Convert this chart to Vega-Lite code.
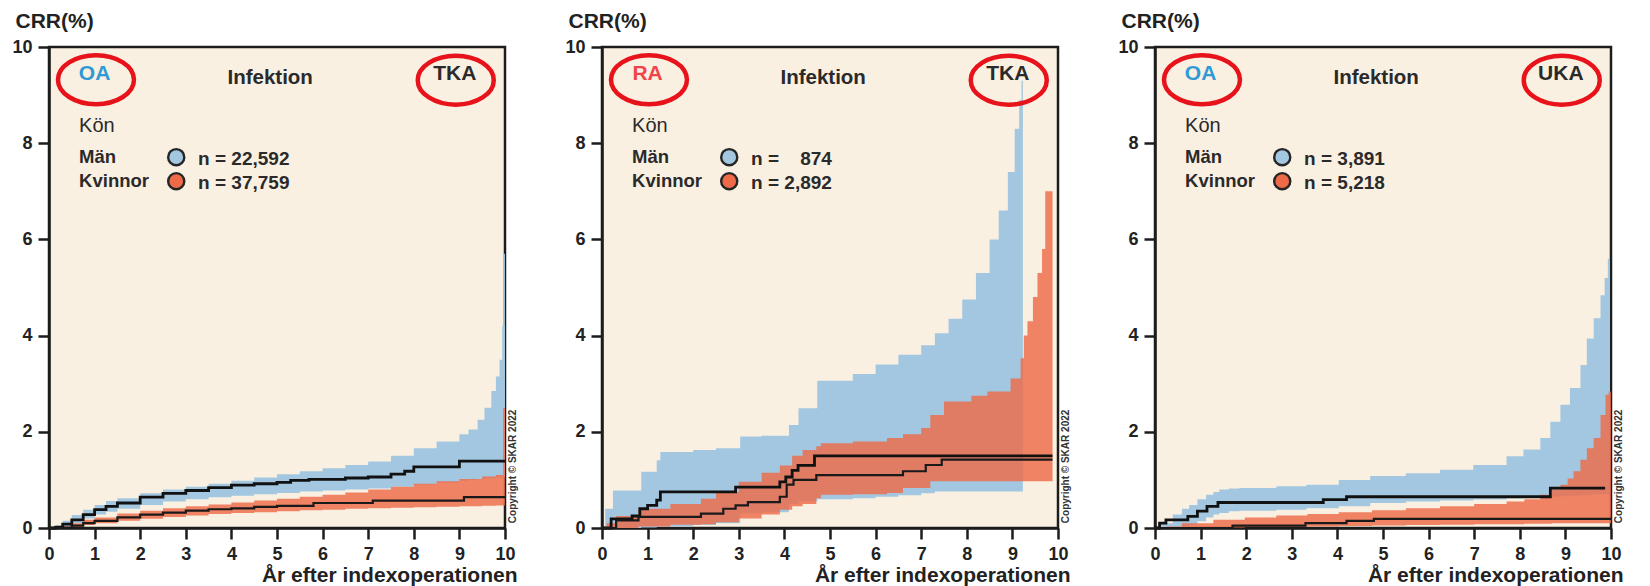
{
  "$schema": "https://vega.github.io/schema/vega-lite/v6.json",
  "background": "white",
  "padding": {"left": 10, "top": 8, "right": 5, "bottom": 0},
  "autosize": {"type": "pad"},
  "config": {
    "font": "Liberation Sans",
    "view": {"fill": "#faf0e2", "stroke": "#1c1c1c", "strokeWidth": 2.5},
    "axis": {"domainColor": "#1c1c1c", "domainWidth": 2.5, "tickColor": "#1c1c1c", "tickWidth": 2.5, "tickSize": 11, "labelFont": "Liberation Sans", "labelFontSize": 18, "labelFontWeight": "bold", "labelColor": "#222222", "labelPadding": 6, "grid": false, "titleFont": "Liberation Sans", "titleFontWeight": "bold", "titleColor": "#222222", "titleFontSize": 21}
  },
  "data": {"values": [
    {"p":1,"t":"lab","diag":"OA","op":"TKA"},
    {"p":2,"t":"lab","diag":"RA","op":"TKA"},
    {"p":3,"t":"lab","diag":"OA","op":"UKA"},
    {"p":1,"t":"leg","sex":"Män","n":"n = 22,592"},
    {"p":1,"t":"leg","sex":"Kvinnor","n":"n = 37,759"},
    {"p":2,"t":"leg","sex":"Män","n":"n =\u00a0\u00a0\u00a0\u00a0874"},
    {"p":2,"t":"leg","sex":"Kvinnor","n":"n = 2,892"},
    {"p":3,"t":"leg","sex":"Män","n":"n = 3,891"},
    {"p":3,"t":"leg","sex":"Kvinnor","n":"n = 5,218"},

    {"p":1,"t":"band","sex":"Män","x":0,"lo":0,"hi":0},
    {"p":1,"t":"band","sex":"Män","x":0.15,"lo":0,"hi":0.05},
    {"p":1,"t":"band","sex":"Män","x":0.3,"lo":0.03,"hi":0.15},
    {"p":1,"t":"band","sex":"Män","x":0.5,"lo":0.1,"hi":0.27},
    {"p":1,"t":"band","sex":"Män","x":0.75,"lo":0.2,"hi":0.38},
    {"p":1,"t":"band","sex":"Män","x":1,"lo":0.28,"hi":0.48},
    {"p":1,"t":"band","sex":"Män","x":1.25,"lo":0.34,"hi":0.56},
    {"p":1,"t":"band","sex":"Män","x":1.5,"lo":0.4,"hi":0.62},
    {"p":1,"t":"band","sex":"Män","x":2,"lo":0.48,"hi":0.72},
    {"p":1,"t":"band","sex":"Män","x":2.5,"lo":0.55,"hi":0.8},
    {"p":1,"t":"band","sex":"Män","x":3,"lo":0.6,"hi":0.86},
    {"p":1,"t":"band","sex":"Män","x":3.5,"lo":0.64,"hi":0.92},
    {"p":1,"t":"band","sex":"Män","x":4,"lo":0.67,"hi":0.98},
    {"p":1,"t":"band","sex":"Män","x":4.5,"lo":0.7,"hi":1.05},
    {"p":1,"t":"band","sex":"Män","x":5,"lo":0.73,"hi":1.12},
    {"p":1,"t":"band","sex":"Män","x":5.5,"lo":0.76,"hi":1.18},
    {"p":1,"t":"band","sex":"Män","x":6,"lo":0.78,"hi":1.24},
    {"p":1,"t":"band","sex":"Män","x":6.5,"lo":0.8,"hi":1.31},
    {"p":1,"t":"band","sex":"Män","x":7,"lo":0.82,"hi":1.38},
    {"p":1,"t":"band","sex":"Män","x":7.5,"lo":0.86,"hi":1.5},
    {"p":1,"t":"band","sex":"Män","x":8,"lo":0.9,"hi":1.66},
    {"p":1,"t":"band","sex":"Män","x":8.5,"lo":0.94,"hi":1.8},
    {"p":1,"t":"band","sex":"Män","x":9,"lo":0.98,"hi":1.95},
    {"p":1,"t":"band","sex":"Män","x":9.2,"lo":1.0,"hi":2.05},
    {"p":1,"t":"band","sex":"Män","x":9.4,"lo":1.02,"hi":2.25},
    {"p":1,"t":"band","sex":"Män","x":9.55,"lo":1.03,"hi":2.5},
    {"p":1,"t":"band","sex":"Män","x":9.7,"lo":1.04,"hi":2.85},
    {"p":1,"t":"band","sex":"Män","x":9.8,"lo":1.05,"hi":3.15},
    {"p":1,"t":"band","sex":"Män","x":9.88,"lo":1.05,"hi":3.5},
    {"p":1,"t":"band","sex":"Män","x":9.94,"lo":1.06,"hi":4.2},
    {"p":1,"t":"band","sex":"Män","x":9.98,"lo":1.06,"hi":5.7},
    {"p":1,"t":"band","sex":"Män","x":10,"lo":1.06,"hi":5.7},

    {"p":1,"t":"band","sex":"Kvinnor","x":0,"lo":0,"hi":0},
    {"p":1,"t":"band","sex":"Kvinnor","x":0.3,"lo":0,"hi":0.03},
    {"p":1,"t":"band","sex":"Kvinnor","x":0.5,"lo":0.02,"hi":0.1},
    {"p":1,"t":"band","sex":"Kvinnor","x":0.75,"lo":0.06,"hi":0.17},
    {"p":1,"t":"band","sex":"Kvinnor","x":1,"lo":0.1,"hi":0.22},
    {"p":1,"t":"band","sex":"Kvinnor","x":1.5,"lo":0.15,"hi":0.3},
    {"p":1,"t":"band","sex":"Kvinnor","x":2,"lo":0.19,"hi":0.36},
    {"p":1,"t":"band","sex":"Kvinnor","x":2.5,"lo":0.23,"hi":0.41},
    {"p":1,"t":"band","sex":"Kvinnor","x":3,"lo":0.26,"hi":0.45},
    {"p":1,"t":"band","sex":"Kvinnor","x":3.5,"lo":0.29,"hi":0.49},
    {"p":1,"t":"band","sex":"Kvinnor","x":4,"lo":0.31,"hi":0.53},
    {"p":1,"t":"band","sex":"Kvinnor","x":4.5,"lo":0.33,"hi":0.57},
    {"p":1,"t":"band","sex":"Kvinnor","x":5,"lo":0.35,"hi":0.61},
    {"p":1,"t":"band","sex":"Kvinnor","x":5.5,"lo":0.37,"hi":0.65},
    {"p":1,"t":"band","sex":"Kvinnor","x":6,"lo":0.38,"hi":0.69},
    {"p":1,"t":"band","sex":"Kvinnor","x":6.5,"lo":0.4,"hi":0.74},
    {"p":1,"t":"band","sex":"Kvinnor","x":7,"lo":0.41,"hi":0.8},
    {"p":1,"t":"band","sex":"Kvinnor","x":7.5,"lo":0.42,"hi":0.86},
    {"p":1,"t":"band","sex":"Kvinnor","x":8,"lo":0.43,"hi":0.92},
    {"p":1,"t":"band","sex":"Kvinnor","x":8.5,"lo":0.44,"hi":0.97},
    {"p":1,"t":"band","sex":"Kvinnor","x":9,"lo":0.45,"hi":1.02},
    {"p":1,"t":"band","sex":"Kvinnor","x":9.5,"lo":0.46,"hi":1.07},
    {"p":1,"t":"band","sex":"Kvinnor","x":9.8,"lo":0.47,"hi":1.1},
    {"p":1,"t":"band","sex":"Kvinnor","x":9.96,"lo":0.47,"hi":2.5},
    {"p":1,"t":"band","sex":"Kvinnor","x":10,"lo":0.47,"hi":2.5},

    {"p":1,"t":"est","sex":"Män","x":0,"est":0},
    {"p":1,"t":"est","sex":"Män","x":0.15,"est":0.02},
    {"p":1,"t":"est","sex":"Män","x":0.3,"est":0.08},
    {"p":1,"t":"est","sex":"Män","x":0.5,"est":0.17},
    {"p":1,"t":"est","sex":"Män","x":0.75,"est":0.28},
    {"p":1,"t":"est","sex":"Män","x":1,"est":0.38},
    {"p":1,"t":"est","sex":"Män","x":1.25,"est":0.45},
    {"p":1,"t":"est","sex":"Män","x":1.5,"est":0.52},
    {"p":1,"t":"est","sex":"Män","x":2,"est":0.64},
    {"p":1,"t":"est","sex":"Män","x":2.5,"est":0.72},
    {"p":1,"t":"est","sex":"Män","x":3,"est":0.78},
    {"p":1,"t":"est","sex":"Män","x":3.5,"est":0.84},
    {"p":1,"t":"est","sex":"Män","x":4,"est":0.89},
    {"p":1,"t":"est","sex":"Män","x":4.5,"est":0.92},
    {"p":1,"t":"est","sex":"Män","x":5,"est":0.95},
    {"p":1,"t":"est","sex":"Män","x":5.3,"est":0.99},
    {"p":1,"t":"est","sex":"Män","x":5.7,"est":1.01},
    {"p":1,"t":"est","sex":"Män","x":6.5,"est":1.04},
    {"p":1,"t":"est","sex":"Män","x":7,"est":1.06},
    {"p":1,"t":"est","sex":"Män","x":7.5,"est":1.12},
    {"p":1,"t":"est","sex":"Män","x":7.8,"est":1.18},
    {"p":1,"t":"est","sex":"Män","x":8,"est":1.27},
    {"p":1,"t":"est","sex":"Män","x":9,"est":1.39},
    {"p":1,"t":"est","sex":"Män","x":10,"est":1.39},

    {"p":1,"t":"est","sex":"Kvinnor","x":0,"est":0},
    {"p":1,"t":"est","sex":"Kvinnor","x":0.3,"est":0.01},
    {"p":1,"t":"est","sex":"Kvinnor","x":0.5,"est":0.05},
    {"p":1,"t":"est","sex":"Kvinnor","x":0.75,"est":0.1},
    {"p":1,"t":"est","sex":"Kvinnor","x":1,"est":0.15},
    {"p":1,"t":"est","sex":"Kvinnor","x":1.5,"est":0.22},
    {"p":1,"t":"est","sex":"Kvinnor","x":2,"est":0.28},
    {"p":1,"t":"est","sex":"Kvinnor","x":2.5,"est":0.32},
    {"p":1,"t":"est","sex":"Kvinnor","x":3,"est":0.36},
    {"p":1,"t":"est","sex":"Kvinnor","x":3.5,"est":0.39},
    {"p":1,"t":"est","sex":"Kvinnor","x":4,"est":0.41},
    {"p":1,"t":"est","sex":"Kvinnor","x":4.5,"est":0.44},
    {"p":1,"t":"est","sex":"Kvinnor","x":5,"est":0.46},
    {"p":1,"t":"est","sex":"Kvinnor","x":5.8,"est":0.52},
    {"p":1,"t":"est","sex":"Kvinnor","x":7.1,"est":0.57},
    {"p":1,"t":"est","sex":"Kvinnor","x":9.1,"est":0.64},
    {"p":1,"t":"est","sex":"Kvinnor","x":10,"est":0.64},

    {"p":2,"t":"band","sex":"Män","x":0,"lo":0,"hi":0},
    {"p":2,"t":"band","sex":"Män","x":0.07,"lo":0,"hi":0.4},
    {"p":2,"t":"band","sex":"Män","x":0.24,"lo":0,"hi":0.78},
    {"p":2,"t":"band","sex":"Män","x":0.86,"lo":0.01,"hi":1.17},
    {"p":2,"t":"band","sex":"Män","x":1.2,"lo":0.02,"hi":1.41},
    {"p":2,"t":"band","sex":"Män","x":1.28,"lo":0.03,"hi":1.58},
    {"p":2,"t":"band","sex":"Män","x":2,"lo":0.06,"hi":1.62},
    {"p":2,"t":"band","sex":"Män","x":2.5,"lo":0.1,"hi":1.66},
    {"p":2,"t":"band","sex":"Män","x":3.03,"lo":0.3,"hi":1.9},
    {"p":2,"t":"band","sex":"Män","x":3.5,"lo":0.33,"hi":1.92},
    {"p":2,"t":"band","sex":"Män","x":4.1,"lo":0.5,"hi":2.14},
    {"p":2,"t":"band","sex":"Män","x":4.31,"lo":0.55,"hi":2.49},
    {"p":2,"t":"band","sex":"Män","x":4.72,"lo":0.6,"hi":3.06},
    {"p":2,"t":"band","sex":"Män","x":5.5,"lo":0.62,"hi":3.2},
    {"p":2,"t":"band","sex":"Män","x":6,"lo":0.65,"hi":3.4},
    {"p":2,"t":"band","sex":"Män","x":6.5,"lo":0.68,"hi":3.6},
    {"p":2,"t":"band","sex":"Män","x":7,"lo":0.72,"hi":3.8},
    {"p":2,"t":"band","sex":"Män","x":7.3,"lo":0.76,"hi":4.05},
    {"p":2,"t":"band","sex":"Män","x":7.6,"lo":0.76,"hi":4.35},
    {"p":2,"t":"band","sex":"Män","x":7.9,"lo":0.76,"hi":4.75},
    {"p":2,"t":"band","sex":"Män","x":8.2,"lo":0.76,"hi":5.3},
    {"p":2,"t":"band","sex":"Män","x":8.5,"lo":0.76,"hi":6.0},
    {"p":2,"t":"band","sex":"Män","x":8.7,"lo":0.76,"hi":6.6},
    {"p":2,"t":"band","sex":"Män","x":8.9,"lo":0.76,"hi":7.4},
    {"p":2,"t":"band","sex":"Män","x":9.05,"lo":0.76,"hi":8.3},
    {"p":2,"t":"band","sex":"Män","x":9.15,"lo":0.76,"hi":8.9},
    {"p":2,"t":"band","sex":"Män","x":9.2,"lo":0.76,"hi":9.3},
    {"p":2,"t":"band","sex":"Män","x":9.23,"lo":0.76,"hi":9.3},

    {"p":2,"t":"band","sex":"Kvinnor","x":0,"lo":0,"hi":0},
    {"p":2,"t":"band","sex":"Kvinnor","x":0.1,"lo":0,"hi":0.1},
    {"p":2,"t":"band","sex":"Kvinnor","x":0.31,"lo":0,"hi":0.25},
    {"p":2,"t":"band","sex":"Kvinnor","x":0.8,"lo":0.03,"hi":0.4},
    {"p":2,"t":"band","sex":"Kvinnor","x":1.5,"lo":0.07,"hi":0.5},
    {"p":2,"t":"band","sex":"Kvinnor","x":2.17,"lo":0.08,"hi":0.61},
    {"p":2,"t":"band","sex":"Kvinnor","x":2.5,"lo":0.12,"hi":0.75},
    {"p":2,"t":"band","sex":"Kvinnor","x":3,"lo":0.2,"hi":0.96},
    {"p":2,"t":"band","sex":"Kvinnor","x":3.5,"lo":0.28,"hi":1.15},
    {"p":2,"t":"band","sex":"Kvinnor","x":3.9,"lo":0.38,"hi":1.3},
    {"p":2,"t":"band","sex":"Kvinnor","x":4.17,"lo":0.45,"hi":1.5},
    {"p":2,"t":"band","sex":"Kvinnor","x":4.4,"lo":0.5,"hi":1.62},
    {"p":2,"t":"band","sex":"Kvinnor","x":4.7,"lo":0.62,"hi":1.7},
    {"p":2,"t":"band","sex":"Kvinnor","x":4.8,"lo":0.69,"hi":1.76},
    {"p":2,"t":"band","sex":"Kvinnor","x":5.5,"lo":0.7,"hi":1.8},
    {"p":2,"t":"band","sex":"Kvinnor","x":6.25,"lo":0.73,"hi":1.87},
    {"p":2,"t":"band","sex":"Kvinnor","x":6.6,"lo":0.83,"hi":1.95},
    {"p":2,"t":"band","sex":"Kvinnor","x":7,"lo":0.83,"hi":2.08},
    {"p":2,"t":"band","sex":"Kvinnor","x":7.2,"lo":0.97,"hi":2.35},
    {"p":2,"t":"band","sex":"Kvinnor","x":7.5,"lo":0.97,"hi":2.63},
    {"p":2,"t":"band","sex":"Kvinnor","x":8.1,"lo":0.97,"hi":2.75},
    {"p":2,"t":"band","sex":"Kvinnor","x":8.45,"lo":0.97,"hi":2.84},
    {"p":2,"t":"band","sex":"Kvinnor","x":8.96,"lo":0.97,"hi":3.11},
    {"p":2,"t":"band","sex":"Kvinnor","x":9.18,"lo":0.97,"hi":3.53},
    {"p":2,"t":"band","sex":"Kvinnor","x":9.25,"lo":0.97,"hi":4.0},
    {"p":2,"t":"band","sex":"Kvinnor","x":9.33,"lo":0.97,"hi":4.3},
    {"p":2,"t":"band","sex":"Kvinnor","x":9.45,"lo":0.97,"hi":4.8},
    {"p":2,"t":"band","sex":"Kvinnor","x":9.55,"lo":0.97,"hi":5.3},
    {"p":2,"t":"band","sex":"Kvinnor","x":9.65,"lo":0.97,"hi":5.8},
    {"p":2,"t":"band","sex":"Kvinnor","x":9.72,"lo":0.97,"hi":7.0},
    {"p":2,"t":"band","sex":"Kvinnor","x":9.88,"lo":0.97,"hi":7.0},

    {"p":2,"t":"est","sex":"Män","x":0,"est":0},
    {"p":2,"t":"est","sex":"Män","x":0.2,"est":0.19},
    {"p":2,"t":"est","sex":"Män","x":0.66,"est":0.25},
    {"p":2,"t":"est","sex":"Män","x":0.83,"est":0.4},
    {"p":2,"t":"est","sex":"Män","x":1.0,"est":0.47},
    {"p":2,"t":"est","sex":"Män","x":1.2,"est":0.58},
    {"p":2,"t":"est","sex":"Män","x":1.28,"est":0.75},
    {"p":2,"t":"est","sex":"Män","x":2.93,"est":0.85},
    {"p":2,"t":"est","sex":"Män","x":3.9,"est":0.96},
    {"p":2,"t":"est","sex":"Män","x":4.03,"est":1.06},
    {"p":2,"t":"est","sex":"Män","x":4.17,"est":1.2},
    {"p":2,"t":"est","sex":"Män","x":4.3,"est":1.3},
    {"p":2,"t":"est","sex":"Män","x":4.66,"est":1.5},
    {"p":2,"t":"est","sex":"Män","x":9.88,"est":1.5},

    {"p":2,"t":"est","sex":"Kvinnor","x":0,"est":0},
    {"p":2,"t":"est","sex":"Kvinnor","x":0.31,"est":0.16},
    {"p":2,"t":"est","sex":"Kvinnor","x":0.8,"est":0.23},
    {"p":2,"t":"est","sex":"Kvinnor","x":2.17,"est":0.3},
    {"p":2,"t":"est","sex":"Kvinnor","x":2.66,"est":0.4},
    {"p":2,"t":"est","sex":"Kvinnor","x":2.93,"est":0.47},
    {"p":2,"t":"est","sex":"Kvinnor","x":3.2,"est":0.54},
    {"p":2,"t":"est","sex":"Kvinnor","x":3.9,"est":0.65},
    {"p":2,"t":"est","sex":"Kvinnor","x":4.05,"est":0.9},
    {"p":2,"t":"est","sex":"Kvinnor","x":4.2,"est":1.0},
    {"p":2,"t":"est","sex":"Kvinnor","x":4.7,"est":1.1},
    {"p":2,"t":"est","sex":"Kvinnor","x":6.6,"est":1.18},
    {"p":2,"t":"est","sex":"Kvinnor","x":7.1,"est":1.31},
    {"p":2,"t":"est","sex":"Kvinnor","x":7.45,"est":1.42},
    {"p":2,"t":"est","sex":"Kvinnor","x":9.88,"est":1.42},

    {"p":3,"t":"band","sex":"Män","x":0,"lo":0,"hi":0},
    {"p":3,"t":"band","sex":"Män","x":0.1,"lo":0,"hi":0.1},
    {"p":3,"t":"band","sex":"Män","x":0.39,"lo":0.01,"hi":0.28},
    {"p":3,"t":"band","sex":"Män","x":0.59,"lo":0.03,"hi":0.4},
    {"p":3,"t":"band","sex":"Män","x":0.75,"lo":0.06,"hi":0.48},
    {"p":3,"t":"band","sex":"Män","x":0.93,"lo":0.14,"hi":0.6},
    {"p":3,"t":"band","sex":"Män","x":1.12,"lo":0.22,"hi":0.69},
    {"p":3,"t":"band","sex":"Män","x":1.28,"lo":0.28,"hi":0.75},
    {"p":3,"t":"band","sex":"Män","x":1.41,"lo":0.31,"hi":0.8},
    {"p":3,"t":"band","sex":"Män","x":1.62,"lo":0.35,"hi":0.82},
    {"p":3,"t":"band","sex":"Män","x":1.85,"lo":0.36,"hi":0.83},
    {"p":3,"t":"band","sex":"Män","x":2.66,"lo":0.38,"hi":0.87},
    {"p":3,"t":"band","sex":"Män","x":3.32,"lo":0.41,"hi":0.9},
    {"p":3,"t":"band","sex":"Män","x":4.03,"lo":0.45,"hi":1.0},
    {"p":3,"t":"band","sex":"Män","x":4.72,"lo":0.52,"hi":1.08},
    {"p":3,"t":"band","sex":"Män","x":5.5,"lo":0.55,"hi":1.14},
    {"p":3,"t":"band","sex":"Män","x":6.25,"lo":0.57,"hi":1.21},
    {"p":3,"t":"band","sex":"Män","x":6.98,"lo":0.59,"hi":1.31},
    {"p":3,"t":"band","sex":"Män","x":7.71,"lo":0.62,"hi":1.49},
    {"p":3,"t":"band","sex":"Män","x":8.08,"lo":0.63,"hi":1.63},
    {"p":3,"t":"band","sex":"Män","x":8.45,"lo":0.64,"hi":1.87},
    {"p":3,"t":"band","sex":"Män","x":8.67,"lo":0.65,"hi":2.21},
    {"p":3,"t":"band","sex":"Män","x":8.89,"lo":0.66,"hi":2.56},
    {"p":3,"t":"band","sex":"Män","x":9.1,"lo":0.67,"hi":2.91},
    {"p":3,"t":"band","sex":"Män","x":9.33,"lo":0.68,"hi":3.39},
    {"p":3,"t":"band","sex":"Män","x":9.47,"lo":0.69,"hi":3.94},
    {"p":3,"t":"band","sex":"Män","x":9.62,"lo":0.7,"hi":4.36},
    {"p":3,"t":"band","sex":"Män","x":9.77,"lo":0.7,"hi":4.84},
    {"p":3,"t":"band","sex":"Män","x":9.86,"lo":0.7,"hi":5.2},
    {"p":3,"t":"band","sex":"Män","x":9.93,"lo":0.7,"hi":5.6},
    {"p":3,"t":"band","sex":"Män","x":9.96,"lo":0.7,"hi":5.6},

    {"p":3,"t":"band","sex":"Kvinnor","x":0,"lo":0,"hi":0},
    {"p":3,"t":"band","sex":"Kvinnor","x":0.24,"lo":0,"hi":0.03},
    {"p":3,"t":"band","sex":"Kvinnor","x":0.59,"lo":0,"hi":0.1},
    {"p":3,"t":"band","sex":"Kvinnor","x":1.28,"lo":0.01,"hi":0.17},
    {"p":3,"t":"band","sex":"Kvinnor","x":1.97,"lo":0.02,"hi":0.22},
    {"p":3,"t":"band","sex":"Kvinnor","x":2.66,"lo":0.02,"hi":0.26},
    {"p":3,"t":"band","sex":"Kvinnor","x":3.34,"lo":0.03,"hi":0.29},
    {"p":3,"t":"band","sex":"Kvinnor","x":4.03,"lo":0.04,"hi":0.33},
    {"p":3,"t":"band","sex":"Kvinnor","x":4.76,"lo":0.05,"hi":0.37},
    {"p":3,"t":"band","sex":"Kvinnor","x":5.5,"lo":0.06,"hi":0.41},
    {"p":3,"t":"band","sex":"Kvinnor","x":6.25,"lo":0.07,"hi":0.45},
    {"p":3,"t":"band","sex":"Kvinnor","x":7,"lo":0.08,"hi":0.5},
    {"p":3,"t":"band","sex":"Kvinnor","x":7.71,"lo":0.08,"hi":0.55},
    {"p":3,"t":"band","sex":"Kvinnor","x":8.1,"lo":0.09,"hi":0.6},
    {"p":3,"t":"band","sex":"Kvinnor","x":8.45,"lo":0.09,"hi":0.69},
    {"p":3,"t":"band","sex":"Kvinnor","x":8.7,"lo":0.1,"hi":0.8},
    {"p":3,"t":"band","sex":"Kvinnor","x":8.89,"lo":0.1,"hi":0.9},
    {"p":3,"t":"band","sex":"Kvinnor","x":9.05,"lo":0.1,"hi":1.03},
    {"p":3,"t":"band","sex":"Kvinnor","x":9.18,"lo":0.1,"hi":1.18},
    {"p":3,"t":"band","sex":"Kvinnor","x":9.33,"lo":0.1,"hi":1.42},
    {"p":3,"t":"band","sex":"Kvinnor","x":9.47,"lo":0.1,"hi":1.66},
    {"p":3,"t":"band","sex":"Kvinnor","x":9.62,"lo":0.1,"hi":1.87},
    {"p":3,"t":"band","sex":"Kvinnor","x":9.77,"lo":0.1,"hi":2.35},
    {"p":3,"t":"band","sex":"Kvinnor","x":9.88,"lo":0.1,"hi":2.77},
    {"p":3,"t":"band","sex":"Kvinnor","x":9.95,"lo":0.1,"hi":2.84},
    {"p":3,"t":"band","sex":"Kvinnor","x":10,"lo":0.1,"hi":2.84},

    {"p":3,"t":"est","sex":"Män","x":0,"est":0},
    {"p":3,"t":"est","sex":"Män","x":0.1,"est":0.1},
    {"p":3,"t":"est","sex":"Män","x":0.24,"est":0.17},
    {"p":3,"t":"est","sex":"Män","x":0.72,"est":0.24},
    {"p":3,"t":"est","sex":"Män","x":0.93,"est":0.35},
    {"p":3,"t":"est","sex":"Män","x":1.14,"est":0.45},
    {"p":3,"t":"est","sex":"Män","x":1.38,"est":0.53},
    {"p":3,"t":"est","sex":"Män","x":3.69,"est":0.59},
    {"p":3,"t":"est","sex":"Män","x":4.2,"est":0.65},
    {"p":3,"t":"est","sex":"Män","x":8.67,"est":0.83},
    {"p":3,"t":"est","sex":"Män","x":9.87,"est":0.83},

    {"p":3,"t":"est","sex":"Kvinnor","x":0,"est":0},
    {"p":3,"t":"est","sex":"Kvinnor","x":1.7,"est":0.05},
    {"p":3,"t":"est","sex":"Kvinnor","x":3.3,"est":0.1},
    {"p":3,"t":"est","sex":"Kvinnor","x":4.2,"est":0.15},
    {"p":3,"t":"est","sex":"Kvinnor","x":4.8,"est":0.19},
    {"p":3,"t":"est","sex":"Kvinnor","x":10,"est":0.19}
  ]},
  "facet": {"column": {"field": "p", "type": "ordinal", "header": {"title": null, "labels": false}}},
  "spacing": 97,
  "bounds": "flush",
  "resolve": {"axis": {"x": "independent", "y": "independent"}},
  "spec": {
    "width": 456,
    "height": 481,
    "layer": [
      {
        "transform": [{"filter": "datum.t == 'band' && datum.sex == 'Män'"}],
        "mark": {"type": "area", "interpolate": "step-after"},
        "encoding": {
          "x": {"field": "x", "type": "quantitative", "scale": {"domain": [0, 10], "nice": false}, "axis": {"values": [0,1,2,3,4,5,6,7,8,9,10], "labelFlush": false, "title": "År efter indexoperationen", "titleAnchor": "end", "titleAlign": "right", "titleX": 468, "titleY": 47, "titleBaseline": "middle"}},
          "y": {"field": "lo", "type": "quantitative", "scale": {"domain": [0, 10], "nice": false}, "axis": {"values": [0,2,4,6,8,10], "title": "CRR(%)", "titleAngle": 0, "titleAlign": "left", "titleX": -34, "titleY": -26, "titleBaseline": "middle"}},
          "y2": {"field": "hi"},
          "fill": {"field": "sex", "type": "nominal", "scale": {"domain": ["Män", "Kvinnor"], "range": ["#a3c7e0", "#ee6a48"]}, "legend": null}
        }
      },
      {
        "transform": [{"filter": "datum.t == 'band' && datum.sex == 'Kvinnor'"}],
        "mark": {"type": "area", "interpolate": "step-after", "fillOpacity": 0.82},
        "encoding": {
          "x": {"field": "x", "type": "quantitative"},
          "y": {"field": "lo", "type": "quantitative"},
          "y2": {"field": "hi"},
          "fill": {"field": "sex", "type": "nominal"}
        }
      },
      {
        "transform": [{"filter": "datum.t == 'est' && datum.sex == 'Män'"}],
        "mark": {"type": "line", "interpolate": "step-after", "color": "#111111", "strokeWidth": 2.8},
        "encoding": {
          "x": {"field": "x", "type": "quantitative"},
          "y": {"field": "est", "type": "quantitative"}
        }
      },
      {
        "transform": [{"filter": "datum.t == 'est' && datum.sex == 'Kvinnor'"}],
        "mark": {"type": "line", "interpolate": "step-after", "color": "#1a1a1a", "strokeWidth": 2.2},
        "encoding": {
          "x": {"field": "x", "type": "quantitative"},
          "y": {"field": "est", "type": "quantitative"}
        }
      },
      {
        "transform": [{"filter": "datum.t == 'lab'"}],
        "mark": {"type": "text", "fontSize": 21, "fontWeight": "bold", "align": "center", "baseline": "middle"},
        "encoding": {
          "x": {"datum": 1.0},
          "y": {"datum": 9.44},
          "text": {"field": "diag"},
          "color": {"field": "diag", "type": "nominal", "scale": {"domain": ["OA", "RA"], "range": ["#2f9ad6", "#f0444b"]}, "legend": null}
        }
      },
      {
        "transform": [{"filter": "datum.t == 'lab'"}],
        "mark": {"type": "text", "fontSize": 20.5, "fontWeight": "bold", "align": "center", "baseline": "middle", "color": "#2a2a2a"},
        "encoding": {
          "x": {"datum": 4.85},
          "y": {"datum": 9.36},
          "text": {"value": "Infektion"}
        }
      },
      {
        "transform": [{"filter": "datum.t == 'lab'"}],
        "mark": {"type": "text", "fontSize": 21, "fontWeight": "bold", "align": "center", "baseline": "middle", "color": "#2a2a2a"},
        "encoding": {
          "x": {"datum": 8.9},
          "y": {"datum": 9.44},
          "text": {"field": "op"}
        }
      },
      {
        "transform": [{"filter": "datum.t == 'lab'"}],
        "mark": {"type": "point", "shape": "M -1 0 C -1 -0.3553 -0.5523 -0.6434 0 -0.6434 C 0.5523 -0.6434 1 -0.3553 1 0 C 1 0.3553 0.5523 0.6434 0 0.6434 C -0.5523 0.6434 -1 0.3553 -1 0 Z", "size": 5776, "filled": false, "stroke": "#e8121b", "strokeWidth": 4.5, "opacity": 1},
        "encoding": {
          "x": {"datum": 1.03},
          "y": {"datum": 9.32}
        }
      },
      {
        "transform": [{"filter": "datum.t == 'lab'"}],
        "mark": {"type": "point", "shape": "M -1 0 C -1 -0.3553 -0.5523 -0.6434 0 -0.6434 C 0.5523 -0.6434 1 -0.3553 1 0 C 1 0.3553 0.5523 0.6434 0 0.6434 C -0.5523 0.6434 -1 0.3553 -1 0 Z", "size": 5776, "filled": false, "stroke": "#e8121b", "strokeWidth": 4.5, "opacity": 1},
        "encoding": {
          "x": {"datum": 8.92},
          "y": {"datum": 9.31}
        }
      },
      {
        "transform": [{"filter": "datum.t == 'lab'"}],
        "mark": {"type": "text", "fontSize": 20, "align": "left", "baseline": "middle", "color": "#2a2a2a"},
        "encoding": {
          "x": {"datum": 0.66},
          "y": {"datum": 8.36},
          "text": {"value": "Kön"}
        }
      },
      {
        "transform": [{"filter": "datum.t == 'leg' && datum.sex == 'Män'"}],
        "mark": {"type": "text", "fontSize": 18.5, "fontWeight": "bold", "align": "left", "baseline": "middle", "color": "#2a2a2a"},
        "encoding": {
          "x": {"datum": 0.66},
          "y": {"datum": 7.71},
          "text": {"field": "sex"}
        }
      },
      {
        "transform": [{"filter": "datum.t == 'leg' && datum.sex == 'Kvinnor'"}],
        "mark": {"type": "text", "fontSize": 18.5, "fontWeight": "bold", "align": "left", "baseline": "middle", "color": "#2a2a2a"},
        "encoding": {
          "x": {"datum": 0.66},
          "y": {"datum": 7.21},
          "text": {"field": "sex"}
        }
      },
      {
        "transform": [{"filter": "datum.t == 'leg' && datum.sex == 'Män'"}],
        "mark": {"type": "point", "shape": "circle", "size": 260, "filled": true, "stroke": "#252525", "strokeWidth": 2.4, "opacity": 1},
        "encoding": {
          "x": {"datum": 2.79},
          "y": {"datum": 7.71},
          "fill": {"field": "sex", "type": "nominal"}
        }
      },
      {
        "transform": [{"filter": "datum.t == 'leg' && datum.sex == 'Kvinnor'"}],
        "mark": {"type": "point", "shape": "circle", "size": 260, "filled": true, "stroke": "#252525", "strokeWidth": 2.4, "opacity": 1},
        "encoding": {
          "x": {"datum": 2.79},
          "y": {"datum": 7.21},
          "fill": {"field": "sex", "type": "nominal"}
        }
      },
      {
        "transform": [{"filter": "datum.t == 'leg' && datum.sex == 'Män'"}],
        "mark": {"type": "text", "fontSize": 19, "fontWeight": "bold", "align": "left", "baseline": "middle", "color": "#2a2a2a"},
        "encoding": {
          "x": {"datum": 3.27},
          "y": {"datum": 7.67},
          "text": {"field": "n"}
        }
      },
      {
        "transform": [{"filter": "datum.t == 'leg' && datum.sex == 'Kvinnor'"}],
        "mark": {"type": "text", "fontSize": 19, "fontWeight": "bold", "align": "left", "baseline": "middle", "color": "#2a2a2a"},
        "encoding": {
          "x": {"datum": 3.27},
          "y": {"datum": 7.17},
          "text": {"field": "n"}
        }
      },
      {
        "transform": [{"filter": "datum.t == 'lab'"}],
        "mark": {"type": "text", "fontSize": 10, "fontWeight": "bold", "angle": 270, "align": "left", "baseline": "top", "dy": 3, "color": "#333333"},
        "encoding": {
          "x": {"datum": 10},
          "y": {"datum": 0.1},
          "text": {"value": "Copyright © SKAR 2022"}
        }
      }
    ]
  }
}
